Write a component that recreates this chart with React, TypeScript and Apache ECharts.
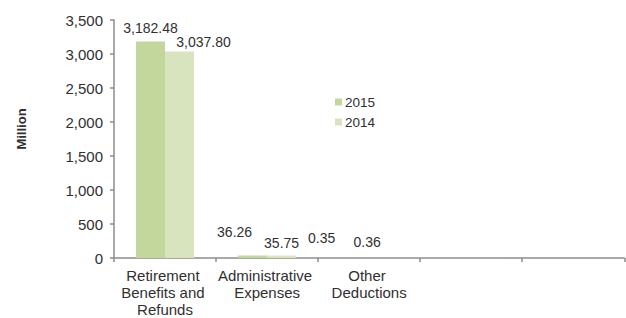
import React, { useEffect, useRef } from "react";
import * as echarts from "echarts";

const categories = [
  "Retirement Benefits and Refunds",
  "Administrative Expenses",
  "Other Deductions",
  "",
  "",
];
const seriesNames = ["2015", "2014"];
const values2015 = [3182.48, 36.26, 0.35];
const values2014 = [3037.8, 35.75, 0.36];
const yTicks = { min: 0, max: 3500, interval: 500 };

const colors = ["#c3d69b", "#d7e4bd"];
const TEXT = "#303030";
// manual label placement (Excel-style hand-positioned labels)
const labelOffsets2015 = [[0, -2], [-18, -12], [-33, -8]];
const labelOffsets2014 = [[24, 3], [0, -1], [-16.5, -4]];

const fmt = (v: number) =>
  v.toLocaleString("en-US", { minimumFractionDigits: 2, maximumFractionDigits: 2 });

function buildData(vals: number[], offs: number[][]) {
  return vals.map((v, i) => ({
    value: v,
    label: { offset: offs[i] },
  }));
}

export default function App() {
  const ref = useRef<HTMLDivElement>(null);
  useEffect(() => {
    document.body.style.margin = "0";
    if (!ref.current) return;
    const chart = echarts.init(ref.current, undefined, { renderer: "svg" });
    const labelCommon = {
      show: true,
      position: "top",
      distance: 5,
      color: TEXT,
      fontSize: 14,
      fontFamily: "Liberation Sans, Arial, sans-serif",
      formatter: (p: any) => fmt(p.value),
    };
    chart.setOption({
      animation: false,
      textStyle: { fontFamily: "Liberation Sans, Arial, sans-serif" },
      grid: { left: 114, top: 20, width: 512.5, height: 243, containLabel: false },
      legend: {
        orient: "vertical",
        left: 330,
        top: 90,
        itemWidth: 7,
        itemHeight: 7,
        itemGap: 6,
        icon: "rect",
        textStyle: { color: TEXT, fontSize: 13.5, padding: [0, 0, 0, -2] },
        data: seriesNames,
      },
      xAxis: {
        type: "category",
        data: categories,
        axisLine: { lineStyle: { color: "#8c8c8c", width: 1.5 } },
        axisTick: { show: true, length: 4, lineStyle: { color: "#8c8c8c", width: 1.5 } },
        axisLabel: {
          color: TEXT,
          fontSize: 15,
          lineHeight: 17,
          margin: 9,
          interval: 0,
          width: 100,
          overflow: "break",
          align: "center",
        },
      },
      yAxis: {
        type: "value",
        min: yTicks.min,
        max: yTicks.max,
        interval: yTicks.interval,
        splitLine: { show: false },
        axisLine: { show: true, lineStyle: { color: "#8c8c8c", width: 1.5 } },
        axisTick: { show: true, length: 4, lineStyle: { color: "#8c8c8c", width: 1.5 } },
        axisLabel: {
          color: TEXT,
          fontSize: 15,
          margin: 11,
          formatter: (v: number) => v.toLocaleString("en-US"),
        },
      },
      graphic: [
        {
          type: "text",
          x: 21,
          y: 129,
          rotation: Math.PI / 2,
          style: {
            text: "Million",
            fontSize: 13,
            fontWeight: "bold",
            fill: TEXT,
            align: "center",
            verticalAlign: "middle",
            fontFamily: "Liberation Sans, Arial, sans-serif",
          },
        },
      ],
      series: [
        {
          name: seriesNames[0],
          type: "bar",
          data: buildData(values2015, labelOffsets2015),
          barWidth: 29,
          barGap: "0%",
          itemStyle: { color: colors[0] },
          label: labelCommon,
        },
        {
          name: seriesNames[1],
          type: "bar",
          data: buildData(values2014, labelOffsets2014),
          barWidth: 29,
          barGap: "0%",
          itemStyle: { color: colors[1] },
          label: labelCommon,
        },
      ],
    });
    return () => chart.dispose();
  }, []);
  return <div ref={ref} style={{ width: 626, height: 318 }} />;
}
